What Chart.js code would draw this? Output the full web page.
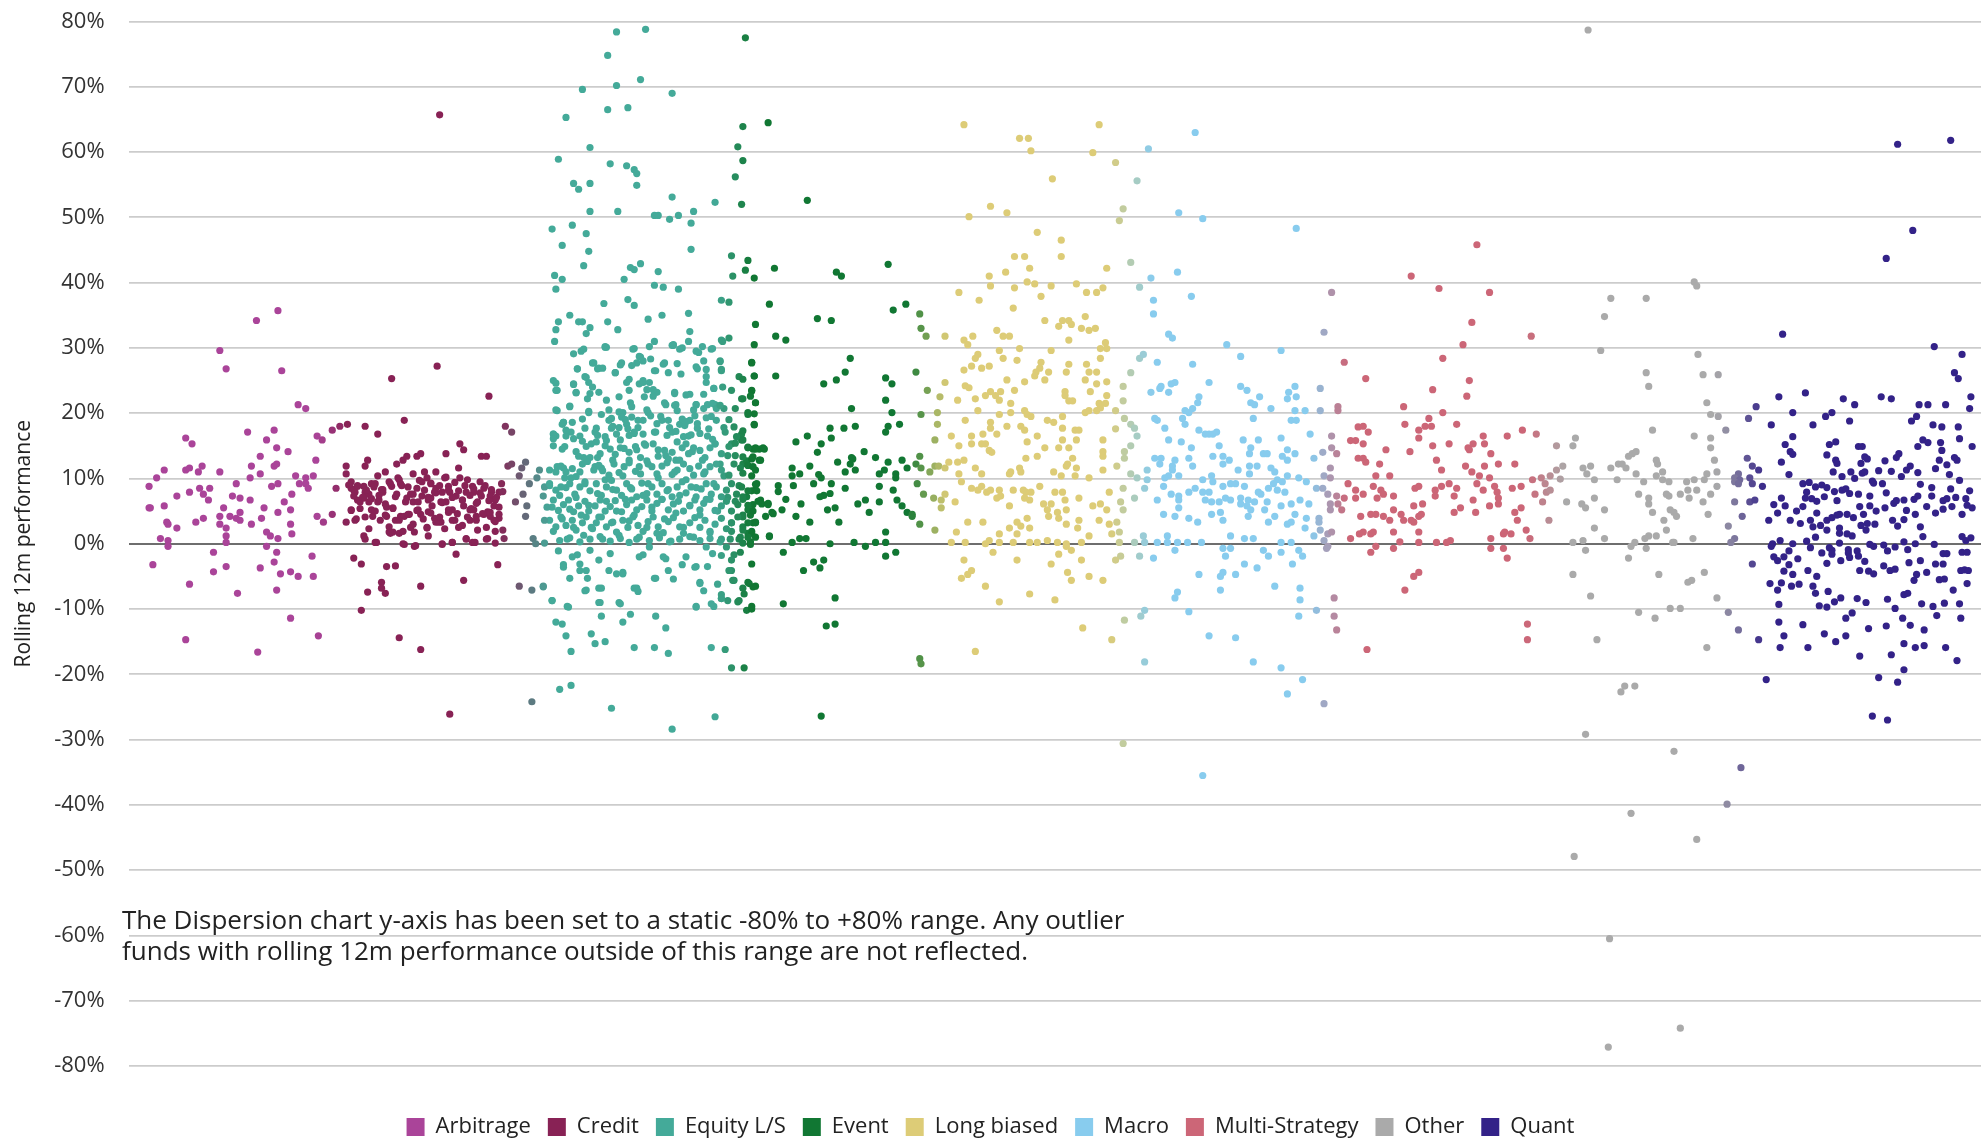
<!DOCTYPE html>
<html>
<head>
<meta charset="utf-8">
<script src="https://cdn.jsdelivr.net/npm/chart.js@4"></script>
<style>
html,body{margin:0;padding:0;background:#fff;}
#wrap{width:1981px;height:1141px;position:relative;}
</style>
</head>
<body>
<div id="wrap"><canvas id="c" width="1981" height="1141"></canvas></div>
<script>
// ---------- DATA (x = horizontal jitter position, y = rolling 12m performance %) ----------
const categories = ['Arbitrage','Credit','Equity L/S','Event','Long biased','Macro','Multi-Strategy','Other','Quant'];
const yTicks = [-80,-70,-60,-50,-40,-30,-20,-10,0,10,20,30,40,50,60,70,80];

const arbitrage = [[118,8.8],[118,5.5],[119,5.5],[121,-3.2],[124,10.1],[127,0.8],[130,11.3],[130,5.8],[132,3.3],[133,3.0],[133,0.5],[133,-0.4],[140,2.4],[140,7.3],[147,16.2],[147,11.3],[147,-14.7],[150,11.6],[150,7.9],[150,-6.2],[152,15.3],[155,3.3],[157,11.0],[158,8.5],[160,11.9],[161,7.6],[161,3.9],[165,6.7],[166,8.5],[169,-1.3],[169,-4.3],[174,11.0],[174,4.2],[174,3.0],[174,29.6],[177,5.5],[179,26.8],[179,2.4],[179,1.2],[179,0.2],[179,-3.5],[182,4.2],[184,7.3],[187,9.2],[187,3.9],[188,-7.6],[190,7.0],[190,4.8],[190,3.6],[196,17.1],[198,6.7],[198,10.1],[199,11.9],[199,3.0],[203,34.2],[204,-16.6],[206,13.4],[206,10.7],[206,-3.7],[207,3.9],[209,5.5],[211,15.9],[211,1.8],[211,-0.4],[214,1.2],[215,8.8],[217,17.4],[217,11.9],[219,14.7],[219,12.2],[219,-1.3],[219,-7.1],[220,35.7],[220,9.2],[220,4.8],[220,0.8],[217,-2.8],[222,-4.6],[223,26.5],[225,6.4],[228,14.1],[230,5.2],[230,3.0],[230,-4.3],[230,-11.4],[231,7.6],[231,1.5],[234,10.4],[236,21.3],[236,-5.0],[237,9.2],[242,20.7],[242,10.1],[242,9.2],[244,8.5],[247,-1.9],[248,10.4],[248,-5.0],[250,12.8],[251,16.5],[251,4.2],[252,-14.1]];

const credit = [[255,15.9],[256,3.3],[263,17.4],[263,4.5],[266,8.5],[269,18.0],[274,11.9],[274,10.7],[274,3.3],[275,18.3],[278,8.5],[278,5.2],[280,-2.2],[281,7.9],[281,3.6],[283,6.7],[286,-10.2],[286,-3.1],[288,8.8],[288,1.2],[289,18.0],[289,11.9],[291,12.8],[291,-7.4],[292,7.6],[294,9.2],[295,4.2],[297,0.2],[299,10.4],[299,16.8],[300,6.7],[302,-5.9],[302,-6.8],[303,7.9],[305,11.0],[305,-7.6],[306,-3.5],[308,1.8],[310,25.3],[310,8.8],[311,1.8],[313,-3.4],[314,12.2],[316,9.8],[316,-14.4],[317,4.2],[319,12.8],[319,0.0],[320,18.9],[322,13.4],[324,4.5],[325,7.6],[327,10.7],[328,1.8],[328,-0.4],[330,13.4],[331,5.2],[333,13.8],[333,-6.5],[333,-16.2],[334,9.5],[336,11.0],[338,2.4],[339,6.7],[341,9.2],[342,5.8],[344,7.9],[345,11.0],[346,27.2],[347,3.3],[349,6.4],[350,0.0],[352,10.1],[353,13.8],[355,4.8],[356,7.9],[356,-26.1],[358,0.2],[360,3.6],[361,-1.6],[363,11.6],[364,15.3],[366,6.7],[367,14.4],[367,-5.6],[369,0.8],[370,9.8],[372,5.2],[374,0.2],[375,7.9],[377,4.2],[378,6.4],[380,9.5],[381,13.4],[383,4.5],[385,13.4],[386,0.8],[387,22.6],[388,4.2],[389,7.9],[391,3.6],[392,6.7],[394,-3.2],[395,3.9],[397,9.2],[399,0.8],[400,18.0],[402,11.9],[405,17.1],[348,65.7],
[278,9.5],[280,7.3],[283,8.8],[285,6.4],[288,7.0],[289,7.9],[292,6.4],[294,5.2],[297,9.2],[299,6.4],[302,8.3],[305,6.1],[306,4.2],[308,9.5],[311,5.5],[313,3.6],[314,7.6],[316,1.6],[317,9.2],[320,4.2],[322,7.0],[325,2.5],[327,6.4],[330,8.5],[333,4.5],[334,7.3],[338,10.1],[339,4.9],[341,7.0],[344,3.9],[345,8.5],[349,3.3],[350,7.9],[353,6.4],[355,8.8],[358,5.2],[361,7.3],[363,2.5],[364,10.1],[367,5.8],[369,7.9],[372,3.6],[374,8.8],[375,5.2],[378,2.1],[381,7.3],[383,8.5],[386,4.9],[388,7.3],[391,5.8],[392,1.9],[395,7.9],
[276,9.0],[280,8.2],[283,8.9],[287,7.1],[290,8.2],[294,6.9],[296,8.7],[300,7.4],[303,8.3],[306,5.6],[309,9.2],[313,7.2],[315,10.1],[318,8.9],[321,6.4],[323,8.7],[327,7.6],[331,6.4],[332,9.7],[336,8.2],[339,7.1],[341,9.3],[345,7.8],[348,8.9],[350,6.3],[353,10.2],[355,8.2],[358,7.1],[360,9.4],[363,8.1],[366,6.7],[368,8.9],[372,7.4],[375,8.4],[377,6.2],[380,7.8],[384,8.9],[387,6.6],[389,8.3],[393,7.1],[395,5.6],[398,8.0],
[278,5.1],[282,3.8],[285,5.4],[289,4.1],[292,2.3],[297,5.0],[301,3.6],[305,4.4],[308,2.6],[311,5.4],[316,3.6],[319,1.9],[323,4.5],[327,3.0],[330,5.1],[335,3.8],[338,2.5],[341,4.7],[345,3.3],[348,4.1],[352,2.3],[355,5.2],[358,3.6],[362,4.6],[366,2.8],[370,4.1],[373,5.4],[377,3.6],[382,4.6],[385,2.5],[388,4.8],[392,3.4],[395,4.5],[398,2.1],
[289,0.7],[298,0.2],[309,1.6],[320,-0.1],[329,-0.3],[339,1.2],[350,-0.1],[358,0.2],[369,0.7],[376,0.2],[385,0.7],[392,0.1],
[405,12.2],[408,6.4],[411,10.4],[411,-6.5],[413,11.6],[414,7.6],[416,12.5],[416,4.2],[417,5.8],[419,9.2],[421,-7.1],[421,-24.2],[422,0.8],[424,0.0],[425,10.1],[427,11.3],[430,-6.5],[430,7.3],[431,3.6]];

const equityLS = [[488,78.4],[511,78.8],[481,74.8],[507,71.1],[488,70.2],[461,69.6],[532,69.0],[481,66.5],[497,66.8],[448,65.3],[467,60.7],[442,58.9],[483,58.2],[496,57.9],[502,57.3],[504,56.7],[504,54.9],[454,55.2],[458,54.3],[467,55.2],[467,50.9],[489,50.9],[532,53.1],[518,50.3],[521,50.3],[530,49.7],[537,50.3],[549,50.9],[547,49.1],[547,45.1],[437,48.2],[453,48.8],[445,45.7],[464,47.5],[466,44.8],[462,42.6],[439,41.1],[445,40.5],[440,39.0],[499,42.3],[502,42.0],[507,42.9],[494,40.5],[521,41.7],[518,39.6],[525,39.3],[537,39.0],[478,36.8],[497,37.4],[502,36.5],[481,34.0],[489,32.8],[451,35.0],[458,34.0],[461,34.0],[467,33.1],[464,32.2],[442,34.0],[440,32.8],[439,31.0],[480,30.1],[513,34.4],[524,35.0],[518,31.0],[533,30.4],[545,35.3],[546,32.5],
[438,25.0],[440,23.5],[441,20.4],[438,16.8],[438,15.0],[445,18.3],[451,21.0],[454,24.4],[456,23.2],[457,26.8],[460,29.5],[463,25.6],[465,22.2],[466,24.7],[466,20.1],[470,27.7],[473,26.8],[474,23.2],[476,19.8],[479,30.1],[482,18.9],[487,26.2],[490,22.5],[491,27.4],[493,20.1],[496,24.7],[499,21.6],[501,29.8],[504,27.7],[507,28.6],[509,24.7],[510,22.5],[513,20.1],[515,28.3],[518,26.5],[520,23.2],[523,19.5],[526,27.7],[527,21.3],[532,30.4],[534,23.2],[535,21.3],[538,29.8],[543,22.8],[545,31.0],[546,18.9],[551,29.5],[552,26.8],[557,28.0],[559,25.6],[560,21.3],[563,29.8],[565,23.8],[566,21.3],[570,28.0],[571,26.5],
[440,16.5],[446,18.6],[448,16.5],[452,17.1],[456,14.1],[459,16.5],[462,13.2],[463,17.7],[468,15.3],[471,17.1],[473,13.2],[476,11.6],[479,15.0],[484,17.7],[485,12.8],[488,16.8],[491,14.7],[496,18.3],[498,12.8],[502,17.1],[504,14.4],[509,18.9],[510,15.3],[513,12.2],[518,17.1],[521,14.4],[524,18.9],[527,13.5],[532,17.1],[535,12.8],[538,18.3],[540,14.7],[545,16.5],[548,14.1],[551,21.3],[552,17.7],[556,12.8],[560,16.5],[563,19.5],[566,15.3],[570,12.2],[573,20.7],[574,17.1],[576,13.5],
[435,8.9],[437,5.6],[438,1.9],[440,11.0],[443,7.4],[445,3.8],[446,11.6],[448,8.6],[449,0.7],[451,5.3],[452,10.1],[454,2.5],[456,7.1],[459,11.0],[460,4.4],[462,1.3],[463,9.2],[466,5.9],[468,2.5],[470,11.3],[473,7.7],[474,4.1],[477,0.7],[479,9.8],[480,6.5],[484,3.2],[485,8.3],[488,5.0],[490,1.3],[493,10.4],[495,6.8],[498,3.5],[499,8.6],[502,4.4],[504,0.7],[507,10.7],[509,7.4],[512,2.5],[513,9.2],[516,5.6],[520,1.6],[521,10.1],[524,6.8],[526,3.8],[529,8.3],[531,0.4],[534,11.0],[535,4.7],[538,7.4],[541,2.5],[543,9.8],[546,5.9],[549,1.0],[551,8.6],[554,4.4],[557,10.7],[559,6.8],[562,1.9],[565,9.2],[568,5.0],[571,0.7],[573,10.4],[576,7.1],[579,3.2],
[437,-8.7],[440,-12.0],[443,-22.3],[445,-12.3],[446,-3.2],[448,-14.1],[449,-9.6],[451,-5.3],[452,-16.5],[452,-21.7],[457,-1.7],[459,-4.1],[463,-7.2],[465,-5.3],[468,-13.8],[471,-15.3],[474,-6.8],[474,-9.0],[476,-11.1],[479,-15.0],[482,-4.1],[484,-25.2],[490,-9.0],[493,-4.4],[493,-12.0],[499,-10.8],[502,-6.8],[502,-15.9],[509,-1.7],[518,-15.9],[518,-5.3],[527,-2.3],[527,-12.9],[529,-16.8],[532,-28.4],[540,-3.2],[551,-3.5],[551,-9.6],[554,-5.9],[557,-7.2],[560,-3.5],[563,-15.9],[565,-9.6],[566,-26.5],[568,-6.2],[571,-8.4],[574,-16.2],[577,-4.1],
[454,29.1],[462,29.8],[479,30.2],[502,29.9],[506,28.7],[514,30.2],[533,30.5],[540,30.0],[553,29.3],[556,30.2],[564,29.9],[572,31.0],
[457,26.8],[469,27.7],[474,26.9],[487,26.2],[492,27.7],[500,27.3],[509,28.0],[519,26.5],[525,27.5],[529,26.2],[536,27.6],[539,26.0],[551,27.1],[559,26.7],[559,24.7],[565,23.8],[570,27.9],[571,26.7],[440,24.6],[441,23.5],[454,24.5],[456,23.1],[464,25.5],[469,24.0],[467,23.0],[477,26.9],[498,25.2],[498,23.5],[506,24.5],[509,25.0],[514,24.7],[517,23.6],[512,23.6],[517,22.6],[534,23.0],[546,22.9],[551,21.3],[557,22.9],[564,21.5],[567,20.7],[570,21.2],[572,24.0],
[440,20.5],[451,21.1],[466,20.3],[480,22.0],[482,20.5],[484,19.2],[490,20.2],[492,19.4],[495,19.0],[500,21.0],[500,19.4],[505,18.9],[505,17.8],[512,20.5],[515,19.6],[520,18.4],[526,21.6],[529,18.9],[530,17.8],[534,21.2],[536,20.4],[540,19.1],[542,18.1],[543,18.7],[549,20.5],[550,19.6],[552,18.4],[557,20.7],[559,19.3],[567,18.9],[573,17.8],[577,19.0],[581,17.9],[583,16.4],[446,18.6],[448,17.4],[453,18.6],[461,19.1],[472,17.7],[473,16.6],[479,16.4],[485,18.0],[490,17.8],[497,17.6],[498,16.6],[502,16.9],[509,16.8],[519,17.1],[528,16.6],[535,17.2],[541,16.4],[547,16.7],[554,16.9],[561,17.6],[564,16.0],
[438,16.8],[438,16.1],[445,14.5],[447,14.9],[454,16.1],[458,13.4],[461,15.7],[464,14.9],[467,13.2],[472,15.6],[475,13.8],[480,15.8],[483,14.5],[487,13.7],[491,15.9],[494,14.6],[498,14.0],[503,14.9],[507,13.2],[511,15.1],[517,15.3],[521,13.4],[526,14.3],[529,13.0],[532,14.0],[536,15.6],[538,12.8],[543,15.3],[545,13.8],[549,14.7],[554,14.3],[558,13.2],[562,14.7],[566,15.3],[571,13.8],[577,14.9],[582,15.4],
[435,11.3],[441,11.8],[444,11.9],[448,11.0],[453,11.5],[456,10.3],[461,12.2],[465,12.6],[471,11.8],[474,12.0],[477,11.2],[482,10.5],[486,12.2],[490,10.9],[494,11.8],[498,12.4],[503,11.1],[506,11.8],[512,12.7],[516,11.8],[520,10.7],[524,11.9],[528,12.4],[532,10.6],[536,11.3],[541,12.2],[546,11.5],[549,10.5],[553,11.9],[558,11.0],[562,11.8],[567,12.2],[571,11.3],[577,10.5],[581,12.2],
[431,8.7],[435,9.2],[440,8.2],[444,8.7],[447,10.1],[451,9.2],[455,7.6],[459,8.7],[463,9.5],[467,8.1],[472,9.2],[476,7.4],[480,8.7],[484,9.7],[488,8.2],[492,7.4],[496,9.2],[500,8.4],[504,7.2],[508,9.3],[512,7.7],[516,8.7],[520,7.6],[524,9.2],[528,8.1],[532,7.2],[536,8.7],[540,9.5],[543,7.8],[547,8.7],[551,7.2],[555,8.4],[559,9.2],[563,7.6],[567,8.7],[571,7.2],[575,8.2],[579,9.2],[583,7.6],
[433,5.6],[438,6.7],[442,5.1],[446,6.0],[450,6.7],[454,4.9],[458,5.8],[463,6.5],[466,5.0],[471,5.8],[475,6.7],[479,5.0],[483,5.7],[487,6.6],[492,4.9],[496,6.0],[500,6.7],[504,5.2],[508,5.7],[512,6.7],[516,5.0],[520,6.2],[524,6.8],[529,5.2],[533,6.1],[537,6.5],[541,5.0],[546,5.8],[550,6.7],[554,5.2],[557,6.2],[562,6.8],[566,5.1],[571,5.8],[575,6.5],[579,5.0],[584,6.0],
[435,3.6],[440,2.6],[444,4.1],[448,2.8],[453,3.6],[456,2.1],[461,3.2],[464,4.1],[469,2.3],[472,3.2],[476,4.1],[480,2.6],[485,3.3],[488,1.8],[493,3.6],[497,2.5],[501,4.1],[505,2.8],[509,1.9],[513,3.4],[517,4.1],[521,2.6],[525,1.7],[529,3.4],[533,4.0],[538,2.6],[541,1.6],[546,3.2],[550,4.0],[554,2.5],[558,3.6],[562,1.7],[566,3.0],[571,3.9],[575,2.3],[579,3.2],[584,4.1],
[443,0.5],[451,0.9],[459,0.3],[467,0.7],[475,1.1],[483,0.4],[491,0.8],[498,0.2],[506,1.0],[514,0.5],[522,0.9],[530,0.3],[538,0.7],[546,1.1],[554,0.5],[562,0.8],[570,0.3],[578,0.7],
[442,-1.1],[446,-3.6],[453,-2.0],[459,-3.1],[464,-4.1],[467,-1.0],[474,-2.5],[476,-6.8],[483,-1.5],[488,-4.6],[493,-4.6],[504,-6.8],[506,-2.0],[514,-0.5],[519,-5.3],[525,-2.0],[529,-4.1],[533,-5.4],[543,-2.0],[550,-3.6],[554,-6.1],[559,-0.5],[564,-1.5],[571,-1.8],[575,-0.5],[579,-2.5],[580,-5.6],[437,-8.7],[450,-9.7],[464,-7.1],[475,-9.0],[491,-9.2],[505,-7.3],[519,-11.1],[551,-9.7],[563,-9.2],[571,-8.4],[584,-8.9],[430,-6.6],[431,0.1]];

const eventDriven = [[588,63.9],[584,60.8],[588,58.7],[582,56.2],[587,52.0],[566,52.3],[579,44.1],[580,41.0],[571,37.3],[577,37.0],[571,31.2],[577,31.5],[585,25.6],[579,23.5],[587,22.2],[582,20.7],[587,16.8],[579,15.3],[582,13.5],[588,12.2],[585,8.9],[582,6.5],[588,4.4],[579,1.9],[585,0.7],[581,-1.7],[579,-4.1],[581,-5.6],[585,-8.7],[576,-8.7],[571,-7.8],[588,-6.8],[579,-19.0],[591,-10.2],[590,77.5],
[608,64.5],[639,52.6],[592,43.4],[590,41.9],[597,40.7],[613,42.2],[609,36.7],[598,33.6],[597,30.5],[614,31.8],[622,31.2],[647,34.5],[658,34.2],[662,41.6],[666,41.0],[703,42.8],[707,35.8],[717,36.7],[595,27.8],[597,25.7],[614,25.7],[673,28.4],[669,26.3],[662,25.1],[652,24.5],[701,25.4],[706,24.5],[595,23.5],[598,21.6],[592,19.8],[597,18.3],[701,22.0],[706,20.1],[674,20.7],[668,17.7],[657,17.7],[658,16.2],[677,18.0],[703,18.0],[701,17.1],[712,18.3],[639,16.5],[630,15.6],[650,15.3],[604,14.7],[598,14.7],[684,14.1],[674,13.2],[693,13.2],[703,12.5],[714,12.8],[663,12.5],[601,12.8],[641,11.9],[627,11.6],[627,10.4],[633,10.7],[650,10.1],[669,11.0],[677,11.3],[696,10.7],[709,10.7],[709,10.1],[718,11.6],[644,9.2],[658,9.2],[616,8.9],[628,8.9],[696,8.8],[652,7.4],[657,7.7],[616,8.0],[669,8.5],[707,8.2],[598,8.3],[600,6.5],[608,6.2],[622,6.8],[634,6.1],[679,6.1],[685,6.7],[696,6.4],[710,6.7],[714,5.8],[655,5.2],[661,5.5],[688,4.8],[611,4.8],[619,5.2],[630,4.2],[594,4.4],[641,3.3],[664,3.3],[718,4.8],[722,4.2],[598,3.3],[595,1.9],[609,1.2],[633,0.8],[638,0.8],[701,1.8],[627,0.2],[657,0.0],[676,0.2],[685,-0.4],[693,0.2],[701,0.2],[620,-1.3],[701,-1.9],[709,-1.3],[644,-2.8],[652,-2.5],[649,-3.7],[636,-4.1],[595,-3.1],[592,-5.9],[598,-6.5],[589,-7.7],[595,-9.6],[620,-9.2],[661,-8.3],[654,-12.6],[661,-12.3],[589,-19.0],[650,-26.4],[728,-17.6],[729,-18.4],
[587,15.9],[592,14.8],[596,14.5],[601,14.5],[586,11.6],[591,12.7],[595,13.0],[598,11.3],[587,8.7],[591,7.2],[595,8.1],[599,9.2],[588,6.8],[592,5.2],[596,6.0],[588,2.6],[592,1.6],[596,3.2],[586,1.0],[594,0.3],[586,-1.3],[593,-6.1],[596,-6.6],[595,-10.0],
[595,27.7],[597,25.7],[588,25.2],[595,23.4],[594,22.6],[598,21.6],[588,22.2],[592,20.1],[597,19.9],[597,18.2],[588,17.3],[588,15.9],[592,14.7],[598,14.5],[605,14.5],[588,13.3],[596,13.3],[602,12.8],[592,12.0],[596,11.8],[588,10.8],[595,10.4],[598,9.1],[592,8.1],[599,8.1],[588,7.2],[602,6.7],[592,5.9],[603,6.1],[596,5.0],[606,4.2],[588,4.1],[592,3.2],[598,3.2],[588,2.1],[595,1.6],[592,1.0],[598,1.0],[588,0.1],[594,-0.1],[609,1.1],[608,6.0],[612,4.6],
[647,14.0],[673,12.2],[675,13.0],[700,11.3],[648,10.6],[649,7.2],
[728,35.2],[729,33.0],[733,31.8],[725,26.3],[734,23.5],[748,24.7],[748,31.8],[729,19.8],[744,22.5],[742,20.1],[742,18.3],[740,15.9],[753,16.5],[728,13.4],[725,12.2],[736,11.0],[740,11.9],[743,11.9],[748,11.6],[751,12.5],[729,11.6],[726,9.2],[731,7.6],[739,7.0],[745,6.7],[748,7.6],[745,5.5],[722,4.5],[728,3.0],[740,2.1]];

const longBiased = [[763,64.2],[870,64.2],[807,62.1],[814,62.1],[816,60.2],[865,59.9],[833,55.9],[883,58.4],[767,50.1],[784,51.7],[797,50.7],[886,49.5],[889,51.3],[821,47.7],[840,46.5],[840,44.0],[803,44.0],[811,44.0],[815,42.2],[796,41.6],[783,41.0],[813,40.1],[819,39.8],[832,39.5],[852,39.8],[860,38.5],[868,38.5],[873,39.2],[876,42.2],[759,38.5],[775,37.3],[784,39.5],[803,39.2],[824,37.9],[802,36.1],[827,34.2],[838,33.3],[841,34.2],[846,34.2],[848,33.6],[856,33.0],[859,34.8],[862,32.7],[867,33.0],[789,32.7],[794,31.8],[799,31.8],[763,31.2],[766,30.5],[770,31.8],[846,31.2],[875,30.8],[871,29.9],[876,29.9],[807,29.9],[832,29.6],[791,29.6],[774,29.0],[772,28.4],[794,28.4],[805,28.1],[871,28.4],[763,26.6],[769,27.2],[777,26.9],[783,27.2],[824,27.8],[846,27.5],[860,27.5],[823,26.9],[820,26.3],[830,26.3],[844,26.3],[862,26.3],[868,26.3],[819,25.7],[827,25.1],[797,25.1],[811,24.8],[859,25.1],[868,24.5],[876,24.8],[764,24.2],[767,23.9],[784,23.3],[792,23.3],[803,23.5],[843,23.3],[863,23.3],[843,22.7],[846,21.9],[849,21.9],[876,22.7],[758,22.0],[772,22.2],[780,22.7],[788,22.7],[791,22.0],[800,21.5],[870,21.5],[875,21.5],[774,20.4],[791,19.8],[800,20.1],[811,20.4],[813,19.8],[816,19.5],[841,19.5],[859,20.1],[862,20.4],[868,20.4],[871,20.8],[764,18.9],[784,18.6],[797,18.0],[808,18.0],[829,18.9],[834,18.6],[841,17.7],[851,17.4],[854,17.4],[784,17.7],[811,17.4],[769,16.5],[778,16.8],[789,16.8],[821,16.5],[873,15.9],[841,15.9],[852,15.9],[759,15.0],[769,15.3],[777,15.3],[780,15.3],[783,14.3],[785,14.0],[813,15.6],[827,14.7],[838,14.7],[846,14.7],[873,14.1],[873,13.4],[821,13.4],[849,13.1],[758,12.5],[763,12.8],[812,13.1],[845,12.2],[772,11.6],[800,11.0],[807,11.6],[834,11.0],[844,11.9],[852,11.6],[873,11.3],[759,10.7],[777,10.7],[799,10.7],[808,11.0],[851,10.4],[862,10.1],[840,10.4],[761,9.5],[769,8.5],[774,8.2],[777,8.8],[781,7.9],[784,8.2],[791,8.2],[792,7.3],[789,7.0],[802,8.2],[810,8.2],[812,7.9],[816,7.9],[823,8.8],[835,7.9],[841,7.9],[756,6.4],[799,5.8],[811,7.0],[815,6.7],[826,6.1],[832,6.1],[843,6.7],[854,7.0],[865,5.8],[871,6.1],[878,7.9],[829,5.2],[830,4.2],[837,4.8],[844,5.2],[838,3.9],[844,3.0],[854,3.6],[876,5.2],[870,3.6],[766,3.3],[778,3.3],[813,3.9],[805,3.3],[808,2.7],[799,2.4],[815,2.4],[757,1.8],[805,1.5],[791,1.5],[853,2.4],[862,1.2],[878,3.0],[753,0.2],[764,0.2],[780,0.0],[783,0.5],[791,0.2],[802,0.2],[815,0.2],[821,0.2],[829,0.5],[837,0.2],[844,0.0],[856,0.2],[786,-1.3],[838,-1.6],[844,-0.4],[848,-1.0],[856,-2.5],[763,-2.5],[805,-2.5],[832,-3.1],[769,-4.1],[845,-4.4],[766,-4.7],[848,-5.6],[862,-5.0],[761,-5.3],[780,-6.5],[873,-5.6],[815,-7.7],[791,-8.9],[835,-8.6],[772,-16.5],[857,-12.9],[880,-14.7],
[883,17.6],[889,21.9],[889,24.1],[895,26.2],[902,28.4],[905,29.0],[902,39.3],[911,40.7],[895,43.1],[883,20.4],[890,19.2],[895,18.3],[898,17.7],[900,16.5],[895,15.0],[890,14.1],[890,13.1],[884,11.9],[895,10.7],[900,10.1],[889,8.5],[887,6.4],[889,5.2],[898,7.0],[884,3.3],[886,1.8],[880,1.5],[886,0.2],[898,0.2],[887,-1.9],[883,-2.5],[890,-11.7],[909,60.5],[900,55.6],[889,-30.6]];

const macro = [[908,11.3],[908,9.8],[906,8.5],[906,0.2],[905,1.2],[902,-1.9],[903,-11.1],[906,-10.2],[906,-18.1],
[946,63.0],[933,50.7],[952,49.8],[1026,48.3],[932,41.6],[943,37.9],[913,37.3],[913,35.2],[925,32.1],[928,31.5],[971,30.5],[982,28.7],[1014,29.6],[944,27.5],[916,27.8],[957,24.7],[930,24.7],[927,24.5],[919,24.1],[918,23.8],[911,23.2],[925,23.2],[982,24.1],[987,23.5],[997,22.5],[1025,24.1],[1020,23.2],[1019,22.2],[1026,22.5],[949,22.5],[948,21.6],[944,20.7],[941,20.1],[938,20.4],[936,19.2],[938,18.3],[990,21.6],[993,21.3],[1006,20.7],[1025,20.4],[1033,20.4],[992,19.2],[1022,18.9],[1026,18.9],[916,18.9],[922,17.7],[914,19.2],[949,17.4],[954,16.8],[957,16.8],[960,16.8],[963,17.1],[1014,16.2],[1037,16.8],[925,15.9],[935,15.6],[943,14.7],[965,15.0],[984,15.9],[996,15.9],[990,14.7],[1019,14.4],[989,13.8],[1000,13.8],[1003,13.8],[1025,13.8],[960,13.4],[968,13.4],[1015,13.4],[914,13.1],[919,13.1],[930,12.8],[941,13.1],[973,12.8],[1019,12.8],[918,12.2],[928,11.9],[944,11.9],[968,12.2],[989,11.9],[995,11.9],[1006,11.6],[928,11.3],[980,11.3],[1009,11.0],[1019,10.4],[925,10.4],[933,10.4],[959,10.4],[989,10.7],[922,10.1],[952,9.8],[960,9.5],[1028,10.1],[1011,9.8],[1015,9.5],[1008,9.2],[1034,9.5],[974,9.2],[978,9.2],[968,8.8],[985,8.8],[946,8.5],[952,7.9],[957,7.9],[1004,8.5],[1011,8.2],[1017,7.9],[921,8.8],[927,7.6],[933,7.3],[941,7.9],[970,7.0],[974,6.7],[996,7.9],[998,7.6],[916,6.7],[933,6.7],[954,6.7],[982,7.0],[988,6.7],[993,6.4],[1003,6.4],[982,6.1],[987,5.8],[1029,6.7],[1036,6.1],[933,5.5],[959,6.4],[965,6.4],[1022,6.1],[990,5.2],[1014,5.8],[1001,5.2],[921,4.5],[930,4.2],[941,3.9],[959,4.5],[966,4.8],[988,4.2],[1009,4.2],[1025,4.5],[948,3.3],[968,3.6],[1004,3.3],[1019,3.0],[1022,3.3],[1034,3.9],[1033,2.4],[924,1.2],[974,1.2],[985,0.8],[992,0.8],[916,0.2],[924,0.2],[932,0.2],[940,0.2],[951,0.2],[1014,0.2],[1022,0.2],[930,-1.0],[968,-0.7],[974,-0.7],[1000,-1.0],[1014,-1.3],[1028,-1.0],[970,-1.9],[1004,-1.9],[913,-2.2],[1031,-1.9],[985,-3.1],[995,-3.7],[1023,-3.1],[949,-4.7],[968,-4.4],[978,-4.7],[966,-5.0],[1009,-6.5],[1029,-6.8],[966,-7.1],[932,-7.4],[930,-8.3],[1029,-8.6],[941,-10.4],[1028,-11.1],[957,-14.1],[978,-14.4],[992,-18.1],[1014,-19.0],[1031,-20.8],[1019,-23.0],[952,-35.5],
[1054,38.5],[1048,32.4],[1045,23.8],[1059,21.0],[1059,20.4],[1045,20.4],[1054,16.5],[1054,14.7],[1058,13.8],[1047,14.0],[1040,13.1],[1053,11.6],[1048,10.4],[1053,10.1],[1042,8.5],[1047,8.5],[1051,7.6],[1058,7.3],[1053,6.1],[1059,6.1],[1062,5.2],[1053,5.2],[1044,3.9],[1044,3.3],[1045,2.1],[1040,1.2],[1051,1.5],[1054,1.8],[1048,0.5],[1051,-0.4],[1050,-0.7],[1042,-10.2],[1056,-8.3],[1056,-11.1],[1058,-13.2],[1048,-24.5]];

const multiStrategy = [[1064,27.8],[1064,7.0],[1075,17.9],[1069,15.8],[1073,15.8],[1075,13.1],[1067,9.2],[1073,8.2],[1073,7.0],[1069,0.8],[1076,1.5],
[1081,25.3],[1079,18.0],[1083,17.1],[1079,15.3],[1079,13.1],[1081,12.5],[1097,14.4],[1092,12.2],[1089,10.4],[1100,10.4],[1087,8.8],[1093,8.2],[1095,7.6],[1090,7.0],[1103,7.3],[1079,7.6],[1077,4.2],[1085,4.5],[1089,4.5],[1100,3.6],[1103,5.2],[1079,1.8],[1085,1.5],[1087,1.8],[1103,1.8],[1108,0.3],[1089,-0.4],[1103,-0.7],[1085,-1.3],[1082,-16.2],[1111,21.0],[1112,18.3],[1117,41.0],[1116,14.1],[1109,4.5],[1111,3.6],[1117,3.6],[1119,5.8],[1119,3.3],[1120,8.5],[1123,8.8],[1123,4.2],[1123,1.8],[1123,0.2],[1125,4.5],[1123,16.2],[1123,17.4],[1128,18.0],[1131,19.2],[1133,18.0],[1134,23.6],[1134,15.0],[1136,8.2],[1136,7.3],[1137,12.8],[1139,39.1],[1141,11.3],[1142,28.4],[1142,20.1],[1141,8.8],[1137,0.2],[1148,0.5],[1147,15.3],[1147,9.2],[1145,0.2],[1153,18.3],[1153,8.5],[1151,7.3],[1151,4.8],[1156,5.5],[1158,30.5],[1161,22.6],[1163,25.0],[1165,33.9],[1163,14.4],[1160,11.9],[1162,14.7],[1166,15.3],[1165,11.0],[1166,6.7],[1169,9.2],[1169,45.8],[1171,10.4],[1168,4.8],[1174,16.5],[1175,15.3],[1175,11.9],[1174,8.2],[1179,38.5],[1179,10.1],[1180,13.8],[1179,5.8],[1180,0.8],[1180,-0.7],[1183,8.8],[1185,7.9],[1186,7.0],[1186,12.2],[1186,6.1],[1190,1.5],[1191,1.8],[1193,16.5],[1193,-2.2],[1190,-0.7],[1196,1.5],[1197,8.5],[1199,12.2],[1199,4.8],[1201,3.6],[1204,8.8],[1204,5.5],[1205,17.4],[1208,2.1],[1211,0.8],[1212,31.8],[1213,9.8],[1209,-12.3],[1209,-14.7],[1216,16.8],[1215,7.6],[1220,10.1],[1221,6.4],[1223,9.2],[1226,3.6],[1224,7.9],[1227,8.2],[1227,10.4],[1232,15.0],[1123,-4.4],[1119,-5.0],[1112,-7.1],[1126,6.1],[1095,4.2]];

const other = [[1237,11.9],[1245,15.0],[1247,16.2],[1253,11.6],[1256,10.7],[1259,11.9],[1262,9.8],[1262,7.0],[1240,6.4],[1252,6.1],[1255,5.5],[1270,5.2],[1262,2.4],[1245,0.2],[1253,0.5],[1270,0.8],[1255,-1.0],[1245,-4.7],[1259,-8.0],[1264,-14.7],[1267,29.6],[1270,34.8],[1275,37.6],[1275,11.6],[1280,9.8],[1281,12.2],[1284,12.2],[1287,11.6],[1289,13.4],[1292,13.8],[1295,14.1],[1295,10.7],[1297,7.6],[1301,9.5],[1305,7.0],[1305,6.1],[1303,37.6],[1303,26.2],[1305,24.1],[1308,17.4],[1308,4.8],[1311,10.4],[1312,12.2],[1311,12.8],[1316,11.0],[1316,9.8],[1321,9.5],[1319,7.6],[1321,7.3],[1322,5.2],[1325,4.8],[1327,4.2],[1317,3.6],[1319,2.1],[1311,1.2],[1305,1.2],[1302,0.8],[1294,0.2],[1291,-0.4],[1303,-0.7],[1324,0.2],[1325,0.2],[1289,-2.2],[1313,-4.7],[1297,-10.5],[1310,-11.4],[1322,-9.9],[1330,-9.9],[1336,-5.9],[1339,-5.6],[1349,-4.4],[1283,-22.7],[1286,-21.8],[1294,-21.8],[1255,-29.2],[1330,7.6],[1335,9.5],[1336,8.2],[1337,7.0],[1341,16.5],[1341,9.8],[1343,8.2],[1340,0.8],[1341,40.1],[1343,39.5],[1344,29.0],[1348,25.9],[1351,21.6],[1354,19.8],[1354,16.2],[1354,14.7],[1357,12.8],[1359,11.0],[1351,10.7],[1349,9.8],[1354,7.6],[1348,6.4],[1352,4.5],[1360,25.9],[1360,19.5],[1359,8.8],[1359,-8.3],[1351,-15.9],[1257,78.7],[1246,-47.9],[1274,-60.5],[1273,-77.1],[1291,-41.3],[1330,-74.2],[1325,-31.8],[1343,-45.3],[1232,11.3],[1235,9.9],
[1366,17.4],[1376,10.7],[1373,10.1],[1377,9.8],[1373,9.5],[1376,9.2],[1373,6.4],[1379,4.2],[1368,2.7],[1373,0.8],[1370,0.2],[1368,-10.5],[1376,-13.2],[1378,-34.3],[1367,-39.9]];

const quant = [[1384,19.2],[1390,21.0],[1383,13.1],[1387,11.9],[1392,11.3],[1385,10.1],[1387,9.2],[1395,8.8],[1385,6.4],[1389,6.7],[1387,-3.1],[1392,-14.7],[1398,-20.8],
[1502,61.2],[1544,61.8],[1514,48.0],[1493,43.7],[1411,32.1],[1531,30.2],[1553,29.0],[1547,26.2],[1550,25.3],
[1408,-12.0],[1412,-14.1],[1409,-15.9],[1431,-15.9],[1444,-13.8],[1453,-15.0],[1461,-11.4],[1461,-14.1],[1472,-17.2],[1482,-26.4],[1487,-20.5],[1494,-27.0],[1502,-21.2],[1507,-19.3],[1507,-15.3],[1516,-15.9],[1523,-15.6],[1540,-15.9],[1493,-12.6],[1523,-13.2],[1552,-11.4],[1506,-11.4],[1427,-12.4],[1479,-13.0],[1497,-17.0],[1512,-12.5],[1533,-11.0],[1549,-17.9],[1466,-10.6],
[1408,22.5],[1429,23.1],[1459,22.2],[1468,21.3],[1489,22.5],[1497,22.2],[1519,21.3],[1526,21.3],[1540,21.3],[1560,22.5],[1559,20.7],[1419,20.1],[1402,18.2],[1435,18.2],[1445,19.5],[1450,20.1],[1464,18.8],[1513,18.8],[1517,19.5],[1530,18.2],[1537,17.9],[1550,17.9],[1551,16.1],[1413,15.2],[1419,16.4],[1417,14.1],[1419,13.7],[1410,12.5],[1416,10.6],[1446,13.6],[1448,15.2],[1453,15.6],[1453,12.8],[1454,12.3],[1451,11.0],[1458,10.3],[1465,11.0],[1468,10.0],[1471,14.9],[1474,14.9],[1476,13.3],[1473,12.3],[1478,13.0],[1474,10.8],[1476,11.0],[1482,9.6],[1487,11.2],[1492,12.7],[1497,11.1],[1503,13.8],[1501,13.2],[1505,10.3],[1509,11.3],[1512,11.9],[1518,10.9],[1518,14.9],[1522,15.9],[1526,15.5],[1536,15.5],[1537,14.3],[1535,12.8],[1532,11.5],[1541,12.1],[1547,13.2],[1549,12.8],[1543,10.6],[1551,9.7],[1561,14.9],[1544,8.4],[1559,8.1],
[1427,9.2],[1432,9.4],[1437,8.7],[1442,9.0],[1446,8.6],[1430,7.9],[1429,7.0],[1434,6.9],[1438,6.5],[1444,7.2],[1452,8.0],[1454,6.6],[1458,8.2],[1461,8.4],[1464,7.7],[1471,7.6],[1480,7.3],[1483,9.3],[1490,9.2],[1493,7.8],[1499,6.2],[1501,6.6],[1507,6.7],[1515,6.8],[1518,7.3],[1520,9.1],[1529,8.6],[1529,7.3],[1538,6.6],[1541,6.9],[1548,7.1],[1556,6.9],[1557,5.9],[1561,5.5],[1553,4.5],[1545,5.7],[1538,5.3],[1532,4.7],[1525,5.7],[1516,4.5],[1509,5.1],[1507,3.7],[1502,2.7],[1498,3.6],[1492,5.5],[1485,5.0],[1480,5.8],[1475,4.5],[1472,5.7],[1467,4.0],[1462,4.5],[1456,4.5],[1454,4.4],[1450,4.0],[1446,3.6],[1438,4.7],[1433,3.6],[1427,5.7],[1422,5.0],[1417,3.6],[1410,7.0],[1413,5.8],[1404,6.0],[1407,4.7],[1400,3.6],[1425,3.1],[1435,2.6],[1441,2.8],[1456,2.4],[1462,1.5],[1473,2.8],[1478,3.1],[1484,3.0],[1477,2.1],[1466,1.2],[1456,1.6],[1446,2.1],[1437,1.0],[1430,0.4],[1409,0.5],[1403,0.0],[1402,-0.4],[1419,0.0],[1433,-0.6],[1448,-0.6],[1450,-1.0],[1456,0.1],[1463,-0.9],[1470,-1.1],[1480,-0.1],[1483,-0.4],[1491,-0.2],[1494,-1.1],[1500,-0.5],[1507,0.3],[1510,-0.9],[1516,0.0],[1520,2.6],[1522,1.1],[1531,-0.1],[1538,-1.5],[1541,-1.5],[1553,1.1],[1556,0.5],[1560,0.9],[1553,-1.3],[1557,-1.3],
[1404,-2.0],[1412,-2.0],[1416,-1.1],[1423,-2.3],[1407,-2.6],[1412,-4.2],[1416,-3.2],[1419,-4.7],[1431,-4.1],[1438,-5.0],[1442,-1.4],[1446,-3.0],[1450,-1.6],[1457,-2.6],[1463,-1.4],[1464,-2.1],[1471,-1.9],[1476,-2.7],[1472,-4.1],[1479,-4.2],[1483,-4.6],[1491,-3.4],[1496,-4.1],[1500,-3.9],[1511,-2.9],[1517,-4.7],[1520,-2.6],[1525,-4.4],[1532,-3.1],[1538,-3.1],[1535,-5.5],[1539,-5.4],[1546,-7.1],[1552,-4.1],[1555,-4.0],[1558,-4.1],[1401,-6.1],[1407,-7.1],[1410,-6.0],[1418,-6.5],[1424,-6.2],[1435,-6.5],[1437,-7.6],[1440,-9.5],[1447,-7.3],[1452,-8.9],[1457,-8.3],[1470,-8.4],[1477,-9.0],[1494,-8.5],[1500,-9.9],[1507,-7.8],[1510,-7.6],[1515,-5.6],[1521,-9.2],[1530,-9.6],[1539,-9.1],[1551,-9.2],[1557,-6.1],[1408,-9.3],[1446,-9.7]];

// ---------- STYLE ----------
const catColors = ['#AA4499','#882255','#44AA99','#117733','#DDCC77','#88CCEE','#CC6677','#AAAAAA','#332288'];
const blendZones = [[250,275],[395,435],[565,595],[718,750],[878,912],[1038,1066],[1208,1240],[1358,1398]];
const seriesData = [arbitrage, credit, equityLS, eventDriven, longBiased, macro, multiStrategy, other, quant];

function hexRgb(h){return [parseInt(h.substr(1,2),16),parseInt(h.substr(3,2),16),parseInt(h.substr(5,2),16)];}
function colorAt(x){
  for(let k=0;k<blendZones.length;k++){
    const [a,b]=blendZones[k];
    if(x<a) return catColors[k];
    if(x<=b){
      const t=(x-a)/(b-a), c1=hexRgb(catColors[k]), c2=hexRgb(catColors[k+1]);
      const m=c1.map((v,i)=>Math.round(v+(c2[i]-v)*t));
      return 'rgb('+m.join(',')+')';
    }
  }
  return catColors[catColors.length-1];
}

const FONT = "'Open Sans', 'Noto Sans', sans-serif";

const noteLines = [
  'The Dispersion chart y-axis has been set to a static -80% to +80% range. Any outlier',
  'funds with rolling 12m performance outside of this range are not reflected.'
];

const notePlugin = {
  id:'note',
  afterDraw(chart){
    const ctx=chart.ctx;
    ctx.save();
    ctx.font = '26px ' + FONT;
    ctx.fillStyle = '#222';
    ctx.textBaseline = 'alphabetic';
    ctx.textAlign = 'left';
    ctx.fillText(noteLines[0], 122, 929);
    ctx.fillText(noteLines[1], 122, 960);
    ctx.restore();
  }
};

const datasets = seriesData.map((arr,i)=>({
  label: categories[i],
  data: arr.map(p=>({x:p[0], y:p[1]})),
  backgroundColor: (c)=> (c.raw ? colorAt(c.raw.x) : catColors[i]),
  borderWidth: 0,
  pointRadius: 3.6,
  pointHoverRadius: 3.6,
  pointBorderWidth: 0
}));

new Chart(document.getElementById('c'), {
  type:'scatter',
  data:{datasets},
  plugins:[notePlugin],
  options:{
    responsive:false,
    animation:false,
    devicePixelRatio:1,
    events:[],
    layout:{autoPadding:false, padding:{top:21.5,right:0,left:0,bottom:-7}},
    plugins:{
      tooltip:{enabled:false},
      legend:{
        position:'bottom',
        labels:{
          boxWidth:18, boxHeight:18, padding:17,
          color:'#222',
          font:{family:FONT, size:22},
          generateLabels(chart){
            return categories.map((name,i)=>({
              text:name, fillStyle:catColors[i], strokeStyle:catColors[i],
              lineWidth:0, hidden:false, datasetIndex:i, fontColor:'#222'
            }));
          }
        }
      }
    },
    scales:{
      x:{
        type:'linear', min:101.8, max:1568,
        display:true,
        ticks:{display:false},
        grid:{display:false, drawTicks:false},
        border:{display:false},
        afterFit(s){ s.height = 33; s.paddingLeft = 0; s.paddingRight = 0; }
      },
      y:{
        min:-80, max:80,
        afterBuildTicks(s){ s.ticks = yTicks.map(v=>({value:v})); },
        ticks:{
          color:'#333', padding:24,
          font:{family:FONT, size:22},
          callback:(v)=> v + '%'
        },
        grid:{
          drawTicks:false,
          color:(c)=> c.tick && c.tick.value===0 ? '#6e6e6e' : '#cccccc',
          lineWidth:(c)=> c.tick && c.tick.value===0 ? 2 : 1.8
        },
        border:{display:false},
        title:{display:true, text:'Rolling 12m performance', color:'#222', font:{family:FONT, size:21}, padding:{top:11,bottom:0}},
        afterFit(s){ s.width = 128.6; s.paddingTop = 0; s.paddingBottom = 0; }
      }
    }
  }
});
</script>
</body>
</html>
